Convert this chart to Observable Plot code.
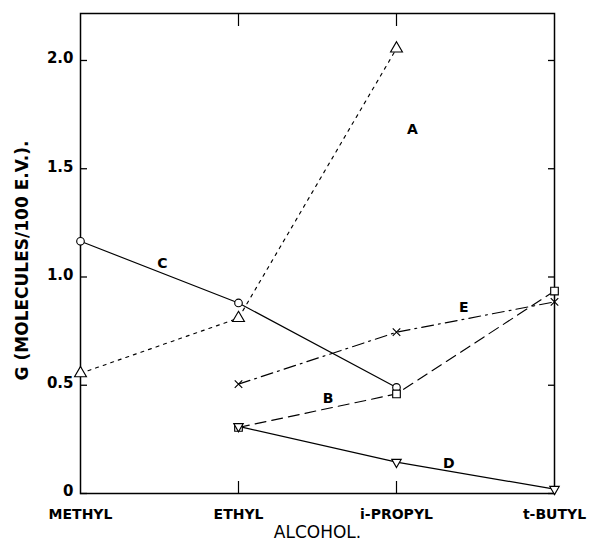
<!DOCTYPE html>
<html><head><meta charset="utf-8">
<script src="https://cdn.jsdelivr.net/npm/d3@7"></script>
<script src="https://cdn.jsdelivr.net/npm/@observablehq/plot@0.6"></script>
<style>body{margin:0;background:#fff}</style>
</head><body><div id="chart"></div>
<script>
// Categories (x axis)
const alcohols = ["METHYL", "ETHYL", "i-PROPYL", "t-BUTYL"];
// Y ticks
const yTicks = [0, 0.5, 1, 1.5, 2];
const yTickLabels = ["0", "0.5", "1.0", "1.5", "2.0"];
// Series values, aligned with alcohols (null = not measured)
const seriesA = [0.555, 0.81, 2.055, null];
const seriesB = [null, 0.305, 0.46, 0.935];
const seriesC = [1.165, 0.88, 0.49, null];
const seriesD = [null, 0.31, 0.145, 0.02];
const seriesE = [null, 0.505, 0.745, 0.885];
// Curve labels and where they sit (x in category index units, y in G units)
const curveNames = ["A", "B", "C", "D", "E"];
const labelX = [2.10, 1.567, 0.518, 2.331, 2.426];
const labelY = [1.68, 0.439, 1.062, 0.139, 0.859];

const rows = s => s.map((v, i) => ({i, v})).filter(d => d.v != null);

const triangleDown = {
  draw(context, size) {
    const s3 = Math.sqrt(3);
    const y = -Math.sqrt(size / (s3 * 3));
    context.moveTo(0, -y * 2);
    context.lineTo(-s3 * y, y);
    context.lineTo(s3 * y, y);
    context.closePath();
  }
};

const line = (s, dash) => Plot.line(rows(s), {x: "i", y: "v", stroke: "black", strokeWidth: 1.15, strokeDasharray: dash});
const dot = (s, symbol, r) => Plot.dot(rows(s), {x: "i", y: "v", symbol, r, stroke: "black", fill: "white", strokeWidth: 1.15});

const labels = curveNames.map((n, k) => ({n, x: labelX[k], y: labelY[k]}));

const chart = Plot.plot({
  width: 592,
  height: 545,
  marginLeft: 80,
  marginRight: 38,
  marginTop: 13,
  marginBottom: 52,
  style: {fontFamily: "DejaVu Sans, sans-serif", background: "white", color: "black"},
  x: {type: "linear", domain: [0, 3]},
  y: {type: "linear", domain: [0, 2.217]},
  marks: [
    line(seriesA, "3,5"),
    line(seriesC, null),
    line(seriesE, "12,5,2,5"),
    line(seriesB, "11,6"),
    line(seriesD, null),
    Plot.frame({stroke: "black", strokeWidth: 1.5}),
    // inward ticks
    Plot.axisY(yTicks, {anchor: "left", tickSize: -7, tickFormat: () => "", strokeWidth: 1.3, label: null}),
    Plot.axisY(yTicks, {anchor: "right", tickSize: -7, tickFormat: () => "", strokeWidth: 1.3, label: null}),
    Plot.axisX([1, 2], {anchor: "bottom", tickSize: -12, tickFormat: () => "", strokeWidth: 1.2, label: null}),
    Plot.axisX([1, 2], {anchor: "top", tickSize: -12, tickFormat: () => "", strokeWidth: 1.2, label: null}),
    // tick labels
    Plot.axisY(yTicks, {anchor: "left", tickSize: 0, tickPadding: 7, dy: -2, fontSize: 15, fontWeight: "bold", tickFormat: d => yTickLabels[yTicks.indexOf(d)], label: null}),
    Plot.axisX([0, 1, 2, 3], {anchor: "bottom", tickSize: 0, tickPadding: 16, fontSize: 14, fontWeight: "bold", tickFormat: d => alcohols[d], label: null, style: "letter-spacing:1.5px"}),
    // markers
    dot(seriesA, "triangle", 4.4),
    dot(seriesC, "circle", 3.8),
    dot(seriesE, "times", 3.5),
    dot(seriesB, "square", 4.3),
    dot(seriesD, triangleDown, 3.5),
    // curve letters
    Plot.text(labels, {x: "x", y: "y", text: "n", fontSize: 14, fontWeight: "bold"}),
    // axis titles
    Plot.text(["G (MOLECULES/100 E.V.)."], {frameAnchor: "left", textAnchor: "middle", dx: -58, dy: 7, rotate: -90, fontSize: 17, fontWeight: "bold", text: d => d, style: "letter-spacing:2px"}),
    Plot.text(["ALCOHOL."], {frameAnchor: "bottom", dy: 44, fontSize: 17, text: d => d, style: "letter-spacing:1.5px"})
  ]
});
document.getElementById("chart").append(chart);
</script>
</body></html>
